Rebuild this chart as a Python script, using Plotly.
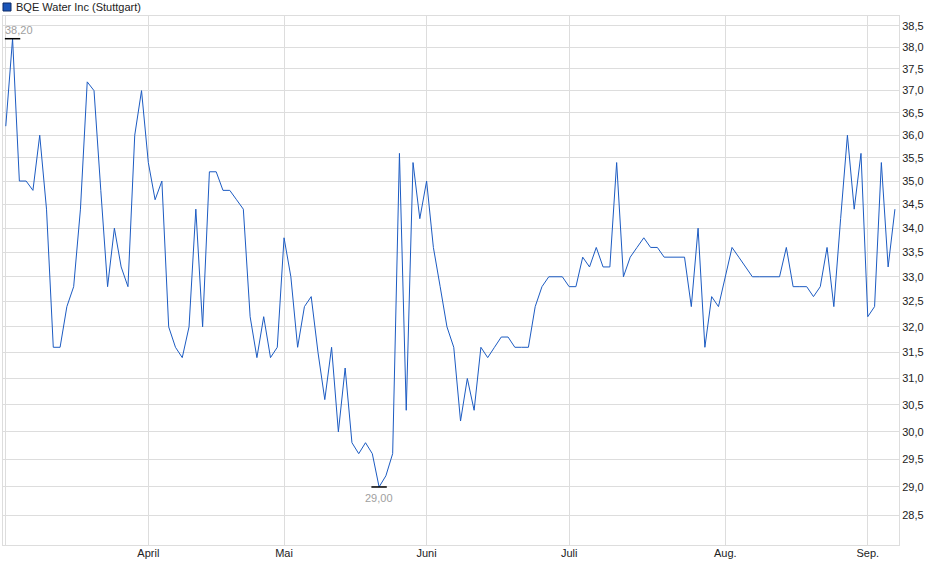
### Imports
import numpy as np
import pandas as pd
import plotly.graph_objects as go

### Data
SERIES_NAME = "BQE Water Inc (Stuttgart)"

# trading days shown (Stuttgart, March - September 2025)
FIRST_DAY = "2025-03-03"
LAST_DAY = "2025-09-05"
HOLIDAYS = ["2025-04-18", "2025-04-21", "2025-05-01"]

# daily closing prices (EUR), one per trading day
PRICES = [
    36.2, 38.2, 35.0, 35.0, 34.8, 36.0, 34.4, 31.6, 31.6, 32.4,
    32.8, 34.4, 37.2, 37.0, 34.8, 32.8, 34.0, 33.2, 32.8, 36.0,
    37.0, 35.4, 34.6, 35.0, 32.0, 31.6, 31.4, 32.0, 34.4, 32.0,
    35.2, 35.2, 34.8, 34.8, 34.6, 34.4, 32.2, 31.4, 32.2, 31.4,
    31.6, 33.8, 33.0, 31.6, 32.4, 32.6, 31.5, 30.6, 31.6, 30.0,
    31.2, 29.8, 29.6, 29.8, 29.6, 29.0, 29.2, 29.6, 35.6, 30.4,
    35.4, 34.2, 35.0, 33.6, 32.8, 32.0, 31.6, 30.2, 31.0, 30.4,
    31.6, 31.4, 31.6, 31.8, 31.8, 31.6, 31.6, 31.6, 32.4, 32.8,
    33.0, 33.0, 33.0, 32.8, 32.8, 33.4, 33.2, 33.6, 33.2, 33.2,
    35.4, 33.0, 33.4, 33.6, 33.8, 33.6, 33.6, 33.4, 33.4, 33.4,
    33.4, 32.4, 34.0, 31.6, 32.6, 32.4, 33.0, 33.6, 33.4, 33.2,
    33.0, 33.0, 33.0, 33.0, 33.0, 33.6, 32.8, 32.8, 32.8, 32.6,
    32.8, 33.6, 32.4, 34.2, 36.0, 34.4, 35.6, 32.2, 32.4, 35.4,
    33.2, 34.4,
]

# x axis ticks (first trading day of each month) and German labels
MONTH_TICKS = ["2025-04-01", "2025-05-02", "2025-06-02", "2025-07-01", "2025-08-01", "2025-09-01"]
MONTH_LABELS = ["April", "Mai", "Juni", "Juli", "Aug.", "Sep."]

# y axis ticks
Y_TICKS = [
    28.5, 29.0, 29.5, 30.0, 30.5, 31.0, 31.5, 32.0, 32.5, 33.0, 33.5,
    34.0, 34.5, 35.0, 35.5, 36.0, 36.5, 37.0, 37.5, 38.0, 38.5,
]

### Styling
FONT = "Liberation Sans, Arial, sans-serif"
LINE_COLOR = "#1c5bc2"
GRID_COLOR = "#dddddd"
LABEL_GREY = "#a0a0a0"

### Build
dates = pd.bdate_range(FIRST_DAY, LAST_DAY, freq="C", holidays=HOLIDAYS).strftime("%Y-%m-%d").tolist()
prices = np.array(PRICES)

i_max = int(np.argmax(prices))
i_min = int(np.argmin(prices))

fig = go.Figure()

# Price line
fig.add_trace(
    go.Scatter(
        x=dates,
        y=prices,
        mode="lines",
        line=dict(color=LINE_COLOR, width=1),
        name=SERIES_NAME,
        showlegend=False,
    )
)

# High / low markers
fig.add_trace(
    go.Scatter(
        x=[dates[i_max], dates[i_min]],
        y=[prices[i_max], prices[i_min]],
        mode="markers",
        marker=dict(symbol="line-ew-open", size=11, color="black", line=dict(color="black", width=1.5)),
        showlegend=False,
        hoverinfo="skip",
    )
)

for idx, shift in [(i_max, 9), (i_min, -11)]:
    fig.add_annotation(
        x=dates[idx],
        y=np.log10(prices[idx]),
        text=f"{prices[idx]:.2f}".replace(".", ","),
        showarrow=False,
        font=dict(family=FONT, size=11, color=LABEL_GREY),
        xanchor="center",
        yanchor="middle",
        xshift=6 if idx == i_max else 0,
        yshift=shift,
    )

# Legend (square + name) above the plot
fig.add_shape(
    type="rect",
    xref="paper",
    yref="paper",
    xsizemode="pixel",
    ysizemode="pixel",
    xanchor=0,
    yanchor=1,
    x0=0,
    x1=8,
    y0=5,
    y1=13,
    fillcolor="#1a55b8",
    line=dict(color="#0d2a66", width=1),
)
fig.add_annotation(
    x=0,
    y=1,
    xref="paper",
    yref="paper",
    text=SERIES_NAME,
    showarrow=False,
    xanchor="left",
    yanchor="middle",
    xshift=11,
    yshift=9,
    font=dict(family=FONT, size=11, color="#222222"),
)

# Axes
fig.update_xaxes(
    type="category",
    range=[-0.41, len(dates) - 0.4],
    tickvals=[dates[0]] + MONTH_TICKS,
    ticktext=[""] + MONTH_LABELS,
    showgrid=True,
    gridcolor=GRID_COLOR,
    gridwidth=1,
    showline=True,
    linecolor=GRID_COLOR,
    mirror=True,
    ticks="",
    ticklabelstandoff=-2,
    tickfont=dict(family=FONT, size=11, color="#222222"),
    zeroline=False,
)
fig.update_yaxes(
    type="log",
    side="right",
    range=[np.log10(27.984), np.log10(38.737)],
    tickvals=Y_TICKS,
    tickformat=".1f",
    showgrid=True,
    gridcolor=GRID_COLOR,
    gridwidth=1,
    showline=True,
    linecolor=GRID_COLOR,
    mirror=True,
    ticks="",
    tickfont=dict(family=FONT, size=11, color="#222222"),
    zeroline=False,
)

fig.update_layout(
    width=940,
    height=579,
    margin=dict(l=3, r=41, t=16, b=34),
    plot_bgcolor="white",
    paper_bgcolor="white",
    separators=",.",
    font=dict(family=FONT, size=11, color="#222222"),
    showlegend=False,
    hovermode="x",
)

# page body has a default 8px margin; drop it so the chart sits at the window corner
fig.write_html(
    "out.html",
    config={"displayModeBar": False},
    post_script="document.body.style.margin = '0px';",
)
